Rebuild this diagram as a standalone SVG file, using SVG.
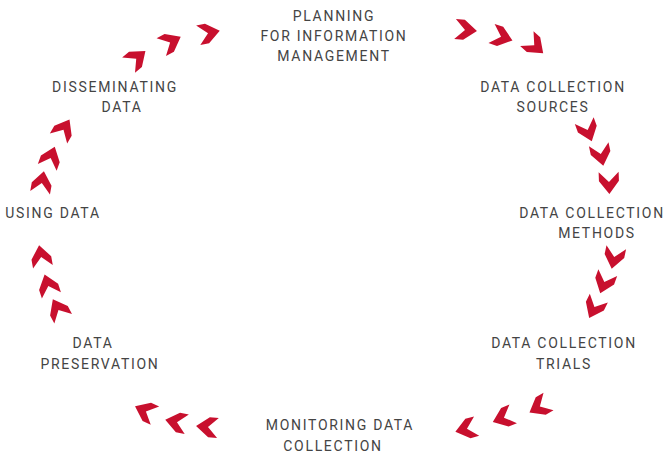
<svg xmlns="http://www.w3.org/2000/svg" xmlns:xlink="http://www.w3.org/1999/xlink" width="665" height="455" viewBox="0 0 665 455">
<style>
.lbl{font-family:Roboto,"Liberation Sans",sans-serif;font-size:14px;fill:#444;letter-spacing:1.7px;text-anchor:middle}
.ch{fill:#C8102E}
</style>
<defs>
<polygon id="chev" class="ch" points="-11,-10 -2,-10 11,0 -2,10 -11,10 -1,0"/>
</defs>
<rect width="665" height="455" fill="#fff"/>
<g id="connectors">
<use xlink:href="#chev" transform="translate(466,30) rotate(5)"/>
<use xlink:href="#chev" transform="translate(502,37) rotate(18)"/>
<use xlink:href="#chev" transform="translate(535,46) rotate(42)"/>
<use xlink:href="#chev" transform="translate(588,131) rotate(70)"/>
<use xlink:href="#chev" transform="translate(601,155) rotate(78)"/>
<use xlink:href="#chev" transform="translate(609,183) rotate(88)"/>
<use xlink:href="#chev" transform="translate(614,258) rotate(102)"/>
<use xlink:href="#chev" transform="translate(604,283) rotate(110)"/>
<use xlink:href="#chev" transform="translate(594,308) rotate(116)"/>
<use xlink:href="#chev" transform="translate(539,407) rotate(150)"/>
<use xlink:href="#chev" transform="translate(503,418) rotate(158)"/>
<use xlink:href="#chev" transform="translate(466,429) rotate(165)"/>
<use xlink:href="#chev" transform="translate(207,427) rotate(185)"/>
<use xlink:href="#chev" transform="translate(176,422) rotate(192)"/>
<use xlink:href="#chev" transform="translate(145,411) rotate(205)"/>
<use xlink:href="#chev" transform="translate(58,309) rotate(242)"/>
<use xlink:href="#chev" transform="translate(48,285) rotate(252)"/>
<use xlink:href="#chev" transform="translate(41,256) rotate(260)"/>
<use xlink:href="#chev" transform="translate(42,182) rotate(280)"/>
<use xlink:href="#chev" transform="translate(51,157) rotate(290)"/>
<use xlink:href="#chev" transform="translate(64,129) rotate(300)"/>
<use xlink:href="#chev" transform="translate(137,58) rotate(-40)"/>
<use xlink:href="#chev" transform="translate(171,42) rotate(-28)"/>
<use xlink:href="#chev" transform="translate(209,33) rotate(-12)"/>
</g>
<g id="planning"><text class="lbl" x="334" y="21">PLANNING</text><text class="lbl" x="334" y="41">FOR INFORMATION</text><text class="lbl" x="334" y="61">MANAGEMENT</text></g>
<g id="sources"><text class="lbl" x="553" y="92">DATA COLLECTION</text><text class="lbl" x="553" y="112">SOURCES</text></g>
<g id="methods"><text class="lbl" x="592" y="218">DATA COLLECTION</text><text class="lbl" x="597" y="238">METHODS</text></g>
<g id="trials"><text class="lbl" x="564" y="348">DATA COLLECTION</text><text class="lbl" x="564" y="369">TRIALS</text></g>
<g id="monitoring"><text class="lbl" x="340" y="430">MONITORING DATA</text><text class="lbl" x="333" y="451">COLLECTION</text></g>
<g id="preservation"><text class="lbl" x="93" y="348">DATA</text><text class="lbl" x="100" y="369">PRESERVATION</text></g>
<g id="using"><text class="lbl" x="53" y="218">USING DATA</text></g>
<g id="disseminating"><text class="lbl" x="115" y="92">DISSEMINATING</text><text class="lbl" x="122" y="112">DATA</text></g>
</svg>
